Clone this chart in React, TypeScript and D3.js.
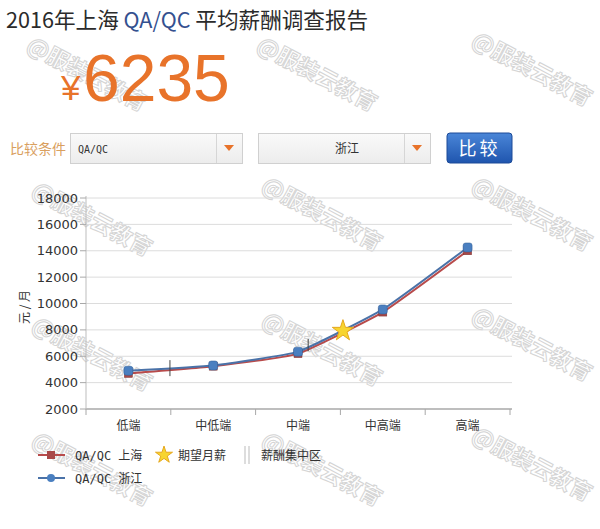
import React from "react";
import * as d3 from "d3";

const categories = ["低端", "中低端", "中端", "中高端", "高端"];
const shanghai = [4700, 5250, 6200, 9350, 14000];
const zhejiang = [4900, 5300, 6350, 9550, 14250];
const yTicks = [2000, 4000, 6000, 8000, 10000, 12000, 14000, 16000, 18000];
const expected = { pos: 3.03, value: 7930 };
const rangeMarks = [
  { pos: 0.99, value: 5100, half: 8 },
  { pos: 2.62, value: 6850, half: 6 },
];
const watermarkPos = [
  [25, 50], [255, 50], [470, 45],
  [30, 195], [260, 190], [470, 190],
  [30, 330], [260, 325], [470, 320],
  [30, 445], [260, 445], [470, 440],
];

export default function App() {
  const W = 600, H = 529;
  const x = d3.scaleBand().domain(categories).range([86, 510]);
  const y = d3.scaleLinear().domain([2000, 18000]).range([409, 198]);
  const bw = x.bandwidth();
  const px = (i: number) => (x(categories[i]) as number) + bw / 2;
  const posX = (p: number) => 86 + bw * p;
  const line = d3
    .line<number>()
    .x((_, i) => px(i))
    .y((d) => y(d))
    .curve(d3.curveCardinal.tension(0.6));
  const star = d3.symbol(d3.symbolStar, 140)();
  const font = "'Noto Sans CJK SC', 'Noto Sans', sans-serif";

  return (
    <svg
      width={W}
      height={H}
      style={{ position: "absolute", left: 0, top: 0, background: "#fff" }}
      fontFamily={font}
    >
      <defs>
        <linearGradient id="btn" x1="0" y1="0" x2="0" y2="1">
          <stop offset="0" stopColor="#4a86d8" />
          <stop offset="1" stopColor="#1f55ae" />
        </linearGradient>
        <linearGradient id="sel" x1="0" y1="0" x2="0" y2="1">
          <stop offset="0" stopColor="#fafafa" />
          <stop offset="1" stopColor="#ececec" />
        </linearGradient>
      </defs>

      {/* watermarks */}
      {watermarkPos.map(([wx, wy], i) => (
        <text
          key={i}
          x={wx}
          y={wy}
          fontSize={22}
          fontWeight="bold"
          fill="#fff"
          fillOpacity={0.2}
          stroke="#d4d4d4"
          strokeWidth={1}
          transform={`rotate(28 ${wx} ${wy})`}
        >
          @服装云教育
        </text>
      ))}

      {/* title */}
      <text x={6} y={28} fontSize={21.6} fill="#2b2b2b">
        2016年上海 <tspan fill="#34508f">QA/QC</tspan> 平均薪酬调查报告
      </text>
      <text x={61} y={100} fontSize={35} fill="#e8732a" fontFamily="'Liberation Sans', Arial, sans-serif">
        ¥
      </text>
      <text x={83} y={101} fontSize={66} fill="#e8732a" fontFamily="'Liberation Sans', Arial, sans-serif">
        6235
      </text>

      {/* controls */}
      <text x={10} y={154} fontSize={14} fill="#d9a060">比较条件</text>
      <rect x={70.5} y={133.5} width={172} height={30} fill="url(#sel)" stroke="#d0d0d0" />
      <line x1={216.5} x2={216.5} y1={134} y2={163} stroke="#d6d6d6" />
      <path d="M224,145 L234,145 L229,151 Z" fill="#e8732a" />
      <text x={78} y={153} fontSize={10} fill="#333" fontFamily="'DejaVu Sans Mono', monospace">QA/QC</text>
      <rect x={258.5} y={133.5} width={172} height={30} fill="url(#sel)" stroke="#d0d0d0" />
      <line x1={404.5} x2={404.5} y1={134} y2={163} stroke="#d6d6d6" />
      <path d="M412,145 L422,145 L417,151 Z" fill="#e8732a" />
      <text x={347} y={153} fontSize={12} fill="#333" textAnchor="middle">浙江</text>
      <rect x={447} y={133} width={65} height={30} rx={3} fill="url(#btn)" stroke="#1c4a98" />
      <text x={479.5} y={155} fontSize={18} fill="#fff" textAnchor="middle" letterSpacing={3}>比较</text>

      {/* grid */}
      {yTicks.map((t) => (
        <line key={t} x1={86} x2={512} y1={y(t)} y2={y(t)} stroke={t === 2000 ? "#a8a8a8" : "#dcdcdc"} strokeWidth={t === 2000 ? 1.5 : 1} />
      ))}
      <line x1={86} x2={86} y1={196} y2={410} stroke="#bdbdbd" />
      {yTicks.map((t) => (
        <g key={"yt" + t}>
          <line x1={80} x2={86} y1={y(t)} y2={y(t)} stroke="#a8a8a8" />
          <text x={78} y={y(t) + 4.5} fontSize={13} fill="#333" textAnchor="end" fontFamily="'DejaVu Sans', sans-serif">
            {t}
          </text>
        </g>
      ))}
      {[0, 1, 2, 3, 4, 5].map((i) => (
        <line key={"xt" + i} x1={posX(i)} x2={posX(i)} y1={409} y2={415} stroke="#a8a8a8" />
      ))}
      {categories.map((c, i) => (
        <text key={c} x={px(i)} y={430} fontSize={12} fill="#333" textAnchor="middle">
          {c}
        </text>
      ))}
      <text transform="translate(29,307) rotate(-90)" fontSize={12} fill="#333" textAnchor="middle">
        元 / 月
      </text>

      {/* series */}
      <path d={line(shanghai) || ""} fill="none" stroke="#b84b4b" strokeWidth={2} />
      <path d={line(zhejiang) || ""} fill="none" stroke="#4a72a8" strokeWidth={2} />
      {shanghai.map((v, i) => (
        <rect key={"s" + i} x={px(i) - 4} y={y(v) - 4} width={8} height={8} fill="#a84848" stroke="#7a3030" strokeWidth={0.5} />
      ))}
      {zhejiang.map((v, i) => (
        <rect key={"z" + i} x={px(i) - 4.5} y={y(v) - 4.5} width={9} height={9} rx={2.5} fill="#4a7fc0" stroke="#2f5d95" strokeWidth={0.5} />
      ))}
      {rangeMarks.map((m, i) => (
        <line key={"r" + i} x1={posX(m.pos)} x2={posX(m.pos)} y1={y(m.value) - m.half} y2={y(m.value) + m.half} stroke="#444" strokeWidth={1} />
      ))}
      <path
        d={star || ""}
        transform={`translate(${posX(expected.pos)},${y(expected.value)})`}
        fill="#f7d530"
        stroke="#e6a81e"
        strokeWidth={1}
      />

      {/* legend */}
      <line x1={38} x2={65} y1={455} y2={455} stroke="#b84b4b" strokeWidth={2} />
      <rect x={47} y={451} width={8} height={8} fill="#a84848" />
      <text x={75} y={460} fontSize={12} fill="#333" fontFamily="'DejaVu Sans Mono', monospace">
        QA/QC <tspan fontFamily={font}>上海</tspan>
      </text>
      <path d={d3.symbol(d3.symbolStar, 90)() || ""} transform="translate(164,455)" fill="#f7d530" stroke="#e6a81e" />
      <text x={178} y={460} fontSize={12} fill="#333">期望月薪</text>
      <line x1={245} x2={245} y1={446} y2={464} stroke="#bbb" />
      <line x1={249} x2={249} y1={446} y2={464} stroke="#bbb" />
      <text x={261} y={460} fontSize={12} fill="#333">薪酬集中区</text>
      <line x1={38} x2={65} y1={478} y2={478} stroke="#4a72a8" strokeWidth={2} />
      <circle cx={51} cy={478} r={4} fill="#4a7fc0" />
      <text x={75} y={483} fontSize={12} fill="#333" fontFamily="'DejaVu Sans Mono', monospace">
        QA/QC <tspan fontFamily={font}>浙江</tspan>
      </text>
    </svg>
  );
}
